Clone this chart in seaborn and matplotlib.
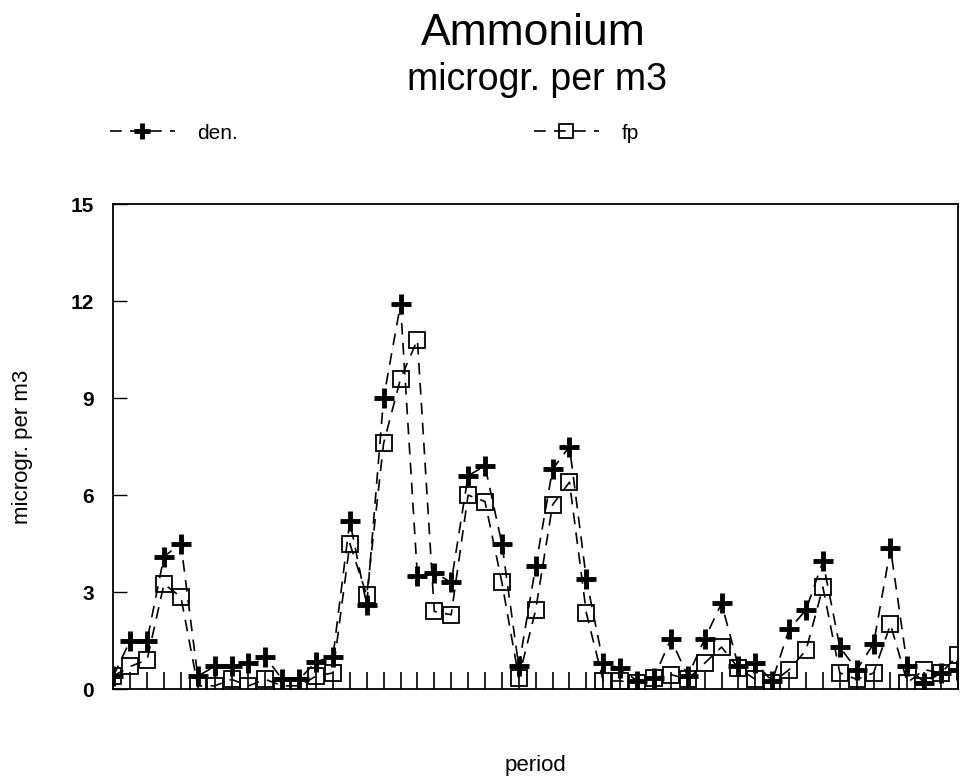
import numpy as np
import pandas as pd
import matplotlib
matplotlib.use('Agg')
import matplotlib.pyplot as plt
import seaborn as sns

sns.set_theme(style='white')
plt.rcParams['font.family'] = ['Liberation Sans', 'DejaVu Sans']
plt.rcParams['text.color'] = 'black'
plt.rcParams['axes.labelcolor'] = 'black'
plt.rcParams['xtick.color'] = 'black'
plt.rcParams['ytick.color'] = 'black'

# values, one per period
period = list(range(51))
den = [0.4, 1.5, 1.5, 4.1, 4.5, 0.4, 0.7, 0.7, 0.8, 1.0, 0.3, 0.3, 0.85,
       1.0, 5.2, 2.6, 9.0, 11.9, 3.5, 3.6, 3.3, 6.6, 6.9, 4.5, 0.7, 3.8,
       6.8, 7.5, 3.4, 0.8, 0.65, 0.25, 0.35, 1.55, 0.4, 1.55, 2.65, 0.7,
       0.8, 0.25, 1.85, 2.45, 3.95, 1.3, 0.6, 1.4, 4.35, 0.7, 0.2, 0.5, 0.6]
fp = [0.4, 0.7, 0.9, 3.25, 2.85, 0.1, 0.1, 0.3, 0.1, 0.3, 0.1, 0.1, 0.4,
      0.5, 4.5, 2.9, 7.6, 9.6, 10.8, 2.4, 2.3, 6.0, 5.8, 3.3, 0.35, 2.45,
      5.7, 6.4, 2.35, 0.25, 0.25, 0.2, 0.35, 0.45, 0.3, 0.8, 1.3, 0.65,
      0.3, 0.2, 0.6, 1.2, 3.15, 0.5, 0.3, 0.5, 2.0, 0.2, 0.6, 0.5, 1.05]
yticks = [0, 3, 6, 9, 12, 15]

df = pd.DataFrame({'period': period, 'den.': den, 'fp': fp})

fig = plt.figure(figsize=(9.6, 7.76), dpi=100)
ax = fig.add_axes([0.118, 0.112, 0.880, 0.625])

dash = (0, (7, 5))
sns.lineplot(data=df, x='period', y='den.', ax=ax, color='black',
             linestyle=dash, linewidth=1.2, marker='+', markersize=15,
             markeredgewidth=3.5, markeredgecolor='black', label='den.')
sns.lineplot(data=df, x='period', y='fp', ax=ax, color='black',
             linestyle=dash, linewidth=1.2, marker='s', markersize=12,
             markeredgecolor='black', markerfacecolor='none',
             markeredgewidth=1.3, label='fp')

ax.set_xlim(0, 50)
ax.set_ylim(0, 15)
ax.set_yticks(yticks)
ax.set_xticks(period)
ax.set_xticklabels([])
ax.tick_params(axis='y', direction='in', length=10, width=1,
               labelsize=15, pad=14, left=True)
ax.tick_params(axis='x', direction='in', length=12, width=1.2, bottom=True)
for lab in ax.get_yticklabels():
    lab.set_fontweight('bold')
for s in ax.spines.values():
    s.set_color('black')
    s.set_linewidth(1.3)

ax.set_xlabel('period', fontsize=16, va='baseline')
ax.xaxis.set_label_coords(0.5, -0.169)
ax.set_ylabel('microgr. per m3', fontsize=16, va='center')
ax.yaxis.set_label_coords(-0.108, 0.5)

fig.text(0.556, 0.942, 'Ammonium', ha='center', va='baseline', fontsize=32)
fig.text(0.559, 0.884, 'microgr. per m3', ha='center', va='baseline',
         fontsize=27)

handles, labels = ax.get_legend_handles_labels()
ax.get_legend().remove()
leg = fig.legend(handles, labels, loc='center left',
                 bbox_to_anchor=(0.1146, 0.8286), ncol=2, frameon=False,
                 fontsize=15, borderaxespad=0, borderpad=0,
                 handlelength=3.1, handletextpad=1.1, columnspacing=14.2,
                 markerscale=0.8)

fig.savefig('out.png', dpi=100)
